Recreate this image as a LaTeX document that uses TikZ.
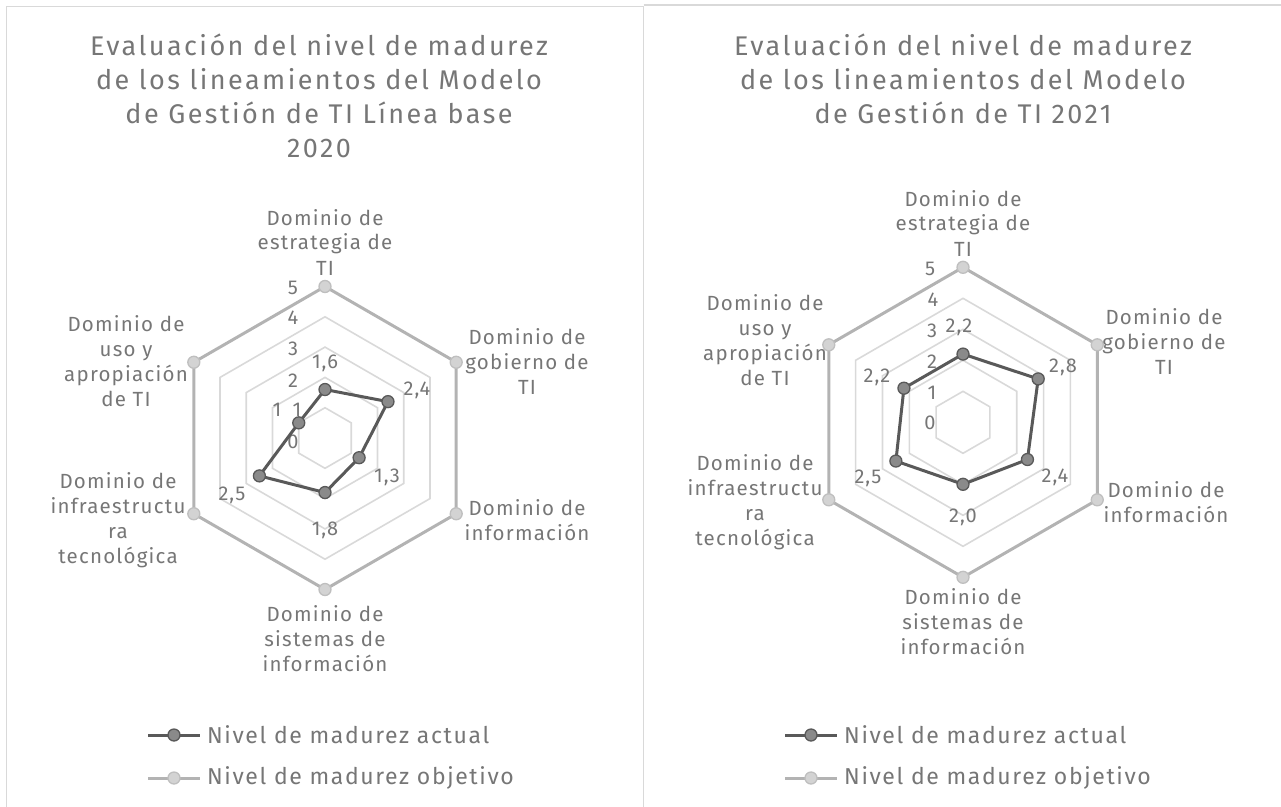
\documentclass[tikz,border=0pt]{standalone}
\usepackage{fontspec}
\setmainfont{Fira Sans}[LetterSpace=3]
\newfontfamily\ttlfont{Fira Sans}[LetterSpace=9]
\newfontfamily\catfont{Fira Sans}[LetterSpace=6]
\newfontfamily\legfont{Fira Sans}[LetterSpace=7]
\newfontfamily\tickfont{Fira Sans}[LetterSpace=5]
\definecolor{txt}{HTML}{767676}
\definecolor{gridc}{HTML}{D9D9D9}
\definecolor{actc}{HTML}{595959}
\definecolor{actfill}{HTML}{8A8A8A}
\definecolor{objc}{HTML}{B3B3B3}
\definecolor{objfill}{HTML}{D3D3D3}
\definecolor{objmc}{HTML}{BFBFBF}
\tikzset{
  frame/.style={draw=gridc, line width=1.5},
  gridline/.style={draw=gridc, line width=1.6},
  objline/.style={draw=objc, line width=3, line join=round},
  actline/.style={draw=actc, line width=3, line join=round},
  actmark/.style={circle, fill=actfill, draw=actc, line width=1.3, minimum size=12, inner sep=0},
  objmark/.style={circle, fill=objfill, draw=objmc, line width=1.3, minimum size=12, inner sep=0},
  ttl/.style={text=txt, font=\ttlfont\fontsize{27}{34}\selectfont, align=center, inner sep=0},
  cat/.style={text=txt, font=\catfont\fontsize{20.5}{25}\selectfont, align=center, inner sep=0},
  tick/.style={text=txt, font=\tickfont\fontsize{20}{22}\selectfont, inner sep=0},
  leg/.style={text=txt, font=\legfont\fontsize{23}{24}\selectfont, anchor=west, inner sep=0},
}
\begin{document}
\begin{tikzpicture}[x=1pt,y=-1pt]
\useasboundingbox (0,0) rectangle (1281,806);
% frames
\draw[frame] (6.5,810) -- (6.5,6.5) -- (643.5,6.5) -- (643.5,810);
\draw[frame] (643.5,5) -- (1290,5);

%================ LEFT CHART
\def\cx{325}\def\cy{438}\def\u{30.3}
\foreach \r in {1,2,3,4}{
  \draw[gridline] ({\cx},{\cy-\r*\u})
    \foreach \k in {1,...,5}{ -- ({\cx+\r*\u*sin(60*\k)},{\cy-\r*\u*cos(60*\k)}) } -- cycle;
}
\node[ttl] (Ltitle) at (319,96) {Evaluación del nivel de madurez\\de los lineamientos del Modelo\\de Gestión de TI Línea base\\2020};
% axis ticks
\node[tick] (Lt5) at (293,288) {5};
\node[tick] (Lt4) at (293,318) {4};
\node[tick] (Lt3) at (293,349) {3};
\node[tick] (Lt2) at (293,381) {2};
\node[tick] (Lt1) at (277,410) {1};
\node[tick] (Lt0) at (293,442) {0};
% objective
\foreach \k in {0,...,5} \coordinate (Lo\k) at ({\cx+5*\u*sin(60*\k)},{\cy-5*\u*cos(60*\k)});
\draw[objline] (Lo0) -- (Lo1) -- (Lo2) -- (Lo3) -- (Lo4) -- (Lo5) -- cycle;
\foreach \k in {0,...,5} \node[objmark] (Lom\k) at (Lo\k) {};
% actual
\foreach \v [count=\k from 0] in {1.6,2.4,1.3,1.8,2.5,1.0}
  \coordinate (La\k) at ({\cx+\v*\u*sin(60*\k)},{\cy-\v*\u*cos(60*\k)});
\draw[actline] (La0) -- (La1) -- (La2) -- (La3) -- (La4) -- (La5) -- cycle;
\foreach \k in {0,...,5} \node[actmark] (Lam\k) at (La\k) {};
% data labels
\node[tick] (Ld0) at (325,363) {1,6};
\node[tick] (Ld1) at (417,390) {2,4};
\node[tick] (Ld2) at (387,477) {1,3};
\node[tick] (Ld3) at (325,530) {1,8};
\node[tick] (Ld4) at (232,495) {2,5};
\node[tick] (Ld5) at (297,410) {1};
% categories
\node[cat] (Lc0) at (325,242) {Dominio de\\estrategia de\\TI};
\node[cat] (Lc1) at (527,361) {Dominio de\\gobierno de\\TI};
\node[cat] (Lc2) at (527,520) {Dominio de\\información};
\node[cat] (Lc3) at (325,639) {Dominio de\\sistemas de\\información};
\node[cat] (Lc4) at (118,520) {Dominio de\\infraestructu\\ra\\tecnológica};
\node[cat] (Lc5) at (126,361) {Dominio de\\uso y\\apropiación\\de TI};
% legend
\coordinate (Lla) at (148,735); \coordinate (Llb) at (200,735);
\draw[actline] (Lla) -- (Llb);
\node[actmark] (Llm1) at (174,735) {};
\node[leg] (Llt1) at (207,735) {Nivel de madurez actual};
\coordinate (Llc) at (148,778); \coordinate (Lld) at (200,778);
\draw[objline] (Llc) -- (Lld);
\node[objmark] (Llm2) at (174,778) {};
\node[leg] (Llt2) at (207,778) {Nivel de madurez objetivo};

%================ RIGHT CHART
\def\cx{963}\def\cy{422.3}\def\u{31}
\foreach \r in {1,2,3,4}{
  \draw[gridline] ({\cx},{\cy-\r*\u})
    \foreach \k in {1,...,5}{ -- ({\cx+\r*\u*sin(60*\k)},{\cy-\r*\u*cos(60*\k)}) } -- cycle;
}
\node[ttl] (Rtitle) at (963,79) {Evaluación del nivel de madurez\\de los lineamientos del Modelo\\de Gestión de TI 2021};
\node[tick] (Rt5) at (930,269) {5};
\node[tick] (Rt4) at (933,300) {4};
\node[tick] (Rt3) at (932,331) {3};
\node[tick] (Rt2) at (932,362) {2};
\node[tick] (Rt1) at (932,393) {1};
\node[tick] (Rt0) at (930,423) {0};
\foreach \k in {0,...,5} \coordinate (Ro\k) at ({\cx+5*\u*sin(60*\k)},{\cy-5*\u*cos(60*\k)});
\draw[objline] (Ro0) -- (Ro1) -- (Ro2) -- (Ro3) -- (Ro4) -- (Ro5) -- cycle;
\foreach \k in {0,...,5} \node[objmark] (Rom\k) at (Ro\k) {};
\foreach \v [count=\k from 0] in {2.2,2.8,2.4,2.0,2.5,2.2}
  \coordinate (Ra\k) at ({\cx+\v*\u*sin(60*\k)},{\cy-\v*\u*cos(60*\k)});
\draw[actline] (Ra0) -- (Ra1) -- (Ra2) -- (Ra3) -- (Ra4) -- (Ra5) -- cycle;
\foreach \k in {0,...,5} \node[actmark] (Ram\k) at (Ra\k) {};
\node[tick] (Rd0) at (959,327) {2,2};
\node[tick] (Rd1) at (1063,367) {2,8};
\node[tick] (Rd2) at (1055,477) {2,4};
\node[tick] (Rd3) at (963,517) {2,0};
\node[tick] (Rd4) at (868,478) {2,5};
\node[tick] (Rd5) at (877,377) {2,2};
\node[cat] (Rc0) at (963,223) {Dominio de\\estrategia de\\TI};
\node[cat] (Rc1) at (1164,341) {Dominio de\\gobierno de\\TI};
\node[cat] (Rc2) at (1166,502) {Dominio de\\información};
\node[cat] (Rc3) at (963,622) {Dominio de\\sistemas de\\información};
\node[cat] (Rc4) at (755,502) {Dominio de\\infraestructu\\ra\\tecnológica};
\node[cat] (Rc5) at (765,340) {Dominio de\\uso y\\apropiación\\de TI};
\coordinate (Rla) at (785,735); \coordinate (Rlb) at (837,735);
\draw[actline] (Rla) -- (Rlb);
\node[actmark] (Rlm1) at (811,735) {};
\node[leg] (Rlt1) at (844,735) {Nivel de madurez actual};
\coordinate (Rlc) at (785,778); \coordinate (Rld) at (837,778);
\draw[objline] (Rlc) -- (Rld);
\node[objmark] (Rlm2) at (811,778) {};
\node[leg] (Rlt2) at (844,778) {Nivel de madurez objetivo};
\end{tikzpicture}
\end{document}
